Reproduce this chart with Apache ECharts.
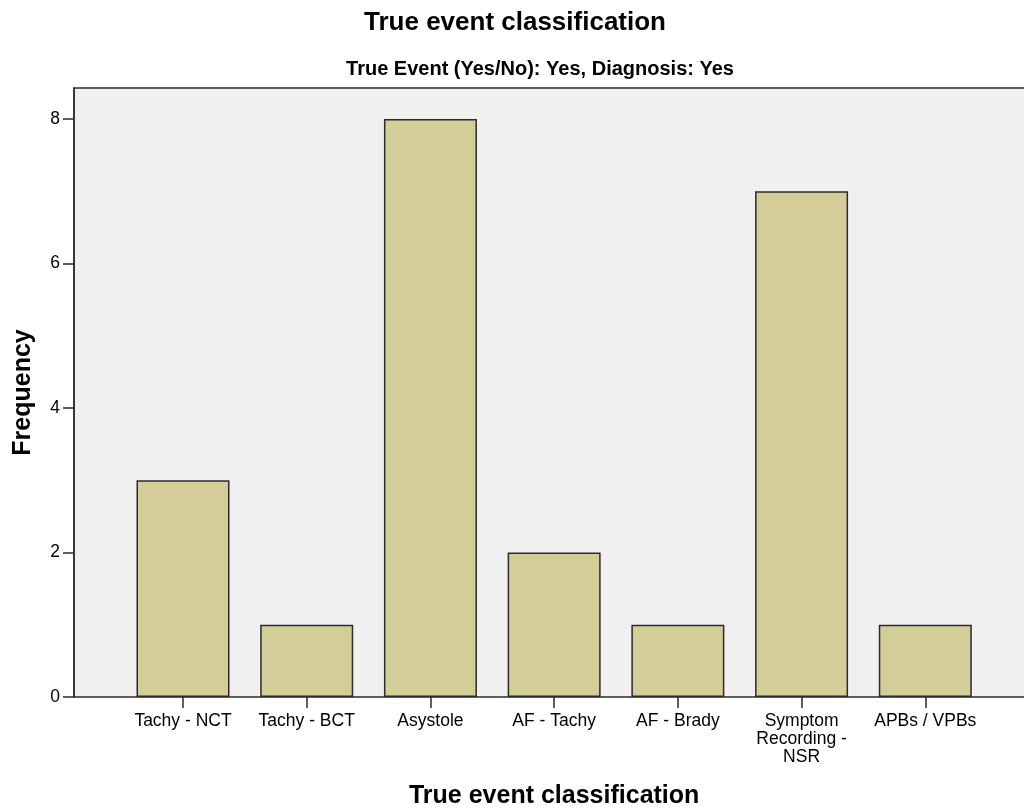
<!DOCTYPE html>
<html>
<head>
<meta charset="utf-8">
<script src="https://cdn.jsdelivr.net/npm/echarts@6/dist/echarts.min.js"></script>
<style>
html,body{margin:0;padding:0;background:#fff;}
#chart{width:1024px;height:809px;}
</style>
</head>
<body>
<div id="chart"></div>
<script>
const categories = ["Tachy - NCT", "Tachy - BCT", "Asystole", "AF - Tachy", "AF - Brady", "Symptom\nRecording -\nNSR", "APBs / VPBs"];
const frequencies = [3, 1, 8, 2, 1, 7, 1];
const yTicks = [0, 2, 4, 6, 8];
const chartTitle = "True event classification";
const chartSubtitle = "True Event (Yes/No): Yes, Diagnosis: Yes";
const xTitle = "True event classification";
const yTitle = "Frequency";

const FONT = "'Liberation Sans', Arial, sans-serif";
const chart = echarts.init(document.getElementById('chart'), null, {renderer: 'canvas'});
const yMax = 8.43;

chart.setOption({
  animation: false,
  backgroundColor: '#ffffff',
  title: [
    {text: chartTitle, left: 515, top: 10, textAlign: 'center', padding: 0,
     textStyle: {fontFamily: FONT, fontSize: 26, fontWeight: 'bold', color: '#000'}},
    {text: chartSubtitle, left: 540, top: 59, textAlign: 'center', padding: 0,
     textStyle: {fontFamily: FONT, fontSize: 20, fontWeight: 'bold', color: '#000'}}
  ],
  grid: [
    {left: 74, top: 88, width: 960, height: 609, show: true, backgroundColor: '#f0f0f0',
     borderColor: '#2b2b2b', borderWidth: 1.5, containLabel: false, outerBoundsMode: 'none'},
    {left: 121.15, top: 88, width: 866, height: 609, containLabel: false, outerBoundsMode: 'none'}
  ],
  xAxis: [
    {gridIndex: 0, type: 'value', min: 0, max: 1, show: false},
    {gridIndex: 1, type: 'category', data: categories, boundaryGap: true,
     name: xTitle, nameLocation: 'middle', nameGap: 87,
     nameTextStyle: {fontFamily: FONT, fontSize: 25, fontWeight: 'bold', color: '#000'},
     axisLine: {show: false},
     axisTick: {show: true, alignWithLabel: true, length: 11, lineStyle: {color: '#2b2b2b', width: 1.5}},
     axisLabel: {fontFamily: FONT, fontSize: 17.5, color: '#000', margin: 15, lineHeight: 18, interval: 0},
     splitLine: {show: false}}
  ],
  yAxis: [
    {gridIndex: 0, type: 'value', min: 0, max: yMax, interval: 2,
     name: yTitle, nameLocation: 'middle', nameGap: 38, nameRotate: 90,
     nameTextStyle: {fontFamily: FONT, fontSize: 25, fontWeight: 'bold', color: '#000'},
     axisLine: {show: true, lineStyle: {color: '#2b2b2b', width: 1.5}},
     axisTick: {show: true, length: 11, customValues: yTicks, lineStyle: {color: '#2b2b2b', width: 1.5}},
     axisLabel: {fontFamily: FONT, fontSize: 17.5, color: '#000', margin: 14, customValues: yTicks},
     splitLine: {show: false}},
    {gridIndex: 1, type: 'value', min: 0, max: yMax, show: false, splitLine: {show: false}}
  ],
  series: [
    {type: 'bar', xAxisIndex: 1, yAxisIndex: 1, data: frequencies, barWidth: 93,
     itemStyle: {color: '#d3ce97', borderColor: '#2b2b2b', borderWidth: 1.5}}
  ]
});
</script>
</body>
</html>
